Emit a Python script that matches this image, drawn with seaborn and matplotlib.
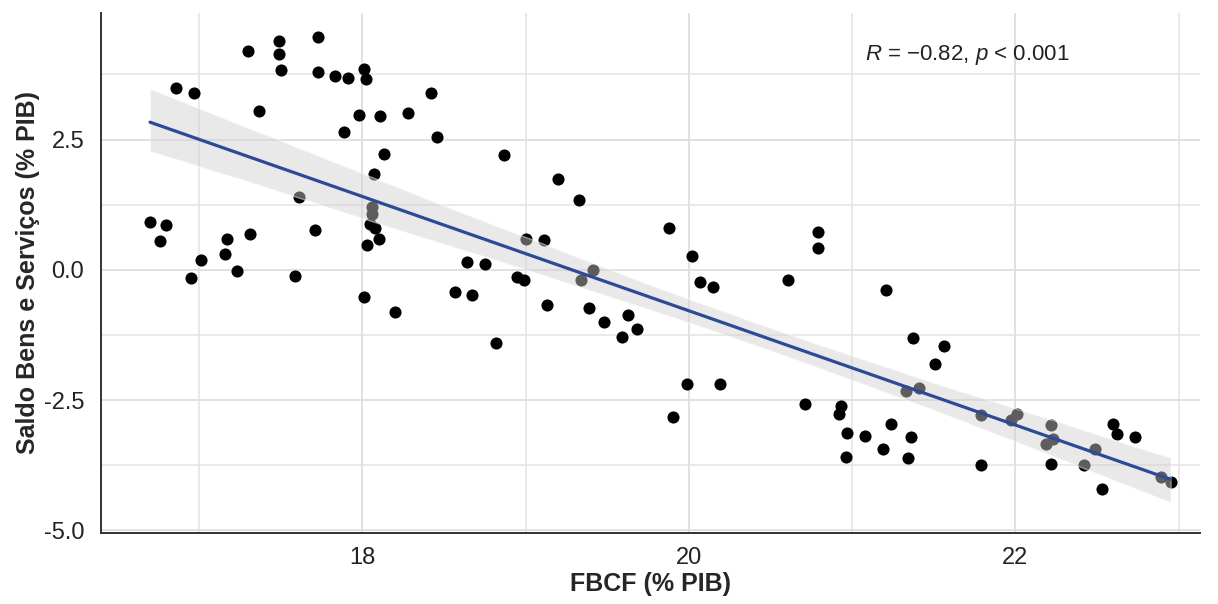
import matplotlib
matplotlib.use("Agg")
import matplotlib.pyplot as plt
import seaborn as sns
import pandas as pd
from matplotlib.ticker import MultipleLocator
from matplotlib.collections import PolyCollection

# FBCF (% PIB) vs Saldo Bens e Serviços (% PIB)
fbcf = [16.70, 16.80, 16.76, 16.86, 16.97, 16.95, 17.01, 17.16, 17.17, 17.23,
        17.30, 17.31, 17.37, 17.49, 17.49, 17.50, 17.59, 17.61, 17.71, 17.73,
        17.73, 17.83, 17.89, 17.91, 17.98, 18.01, 18.02, 18.01, 18.03, 18.05,
        18.06, 18.06, 18.07, 18.08, 18.10, 18.11, 18.13, 18.20, 18.28, 18.42,
        18.46, 18.57, 18.64, 18.67, 18.75, 18.82, 18.87, 18.95, 18.99, 19.00,
        19.11, 19.13, 19.20, 19.33, 19.34, 19.39, 19.41, 19.48, 19.59, 19.63,
        19.68, 19.88, 19.90, 19.99, 20.02, 20.07, 20.15, 20.19, 20.61, 20.71,
        20.79, 20.79, 20.93, 20.92, 20.97, 20.96, 21.08, 21.19, 21.21, 21.24,
        21.33, 21.34, 21.36, 21.37, 21.41, 21.51, 21.56, 21.79, 21.79, 21.97,
        22.01, 22.19, 22.22, 22.23, 22.22, 22.42, 22.49, 22.53, 22.60, 22.62,
        22.73, 22.89, 22.95]
saldo = [0.92, 0.87, 0.56, 3.50, 3.40, -0.16, 0.18, 0.31, 0.60, -0.02,
         4.20, 0.69, 3.04, 4.40, 4.15, 3.83, -0.12, 1.39, 0.76, 4.47,
         3.79, 3.72, 2.64, 3.69, 2.98, 3.85, 3.67, -0.52, 0.48, 0.89,
         1.20, 1.07, 1.84, 0.80, 0.60, 2.95, 2.23, -0.80, 3.01, 3.39,
         2.55, -0.42, 0.16, -0.49, 0.11, -1.41, 2.21, -0.14, -0.20, 0.59,
         0.58, -0.68, 1.75, 1.34, -0.19, -0.74, 0.00, -1.00, -1.28, -0.87,
         -1.14, 0.80, -2.82, -2.19, 0.27, -0.23, -0.33, -2.19, -0.20, -2.58,
         0.72, 0.42, -2.62, -2.76, -3.13, -3.59, -3.18, -3.44, -0.38, -2.96,
         -2.32, -3.62, -3.21, -1.30, -2.27, -1.80, -1.47, -2.78, -3.75, -2.88,
         -2.77, -3.35, -2.97, -3.24, -3.72, -3.75, -3.44, -4.21, -2.95, -3.15,
         -3.21, -3.98, -4.07]
stat_label = r"$\mathit{R}$ = −0.82, $\mathit{p}$ < 0.001"

df = pd.DataFrame({"fbcf": fbcf, "saldo": saldo})

sns.set_theme(style="whitegrid")
plt.rcParams["font.family"] = ["Liberation Sans", "DejaVu Sans"]
plt.rcParams["mathtext.fontset"] = "custom"
plt.rcParams["mathtext.rm"] = "Liberation Sans"
plt.rcParams["mathtext.it"] = "Liberation Sans:italic"

fig = plt.figure(figsize=(12.18, 6.04), dpi=100)
ax = fig.add_axes([101 / 1218, 71 / 604, (1200 - 101) / 1218, (533 - 13) / 604])

sns.regplot(data=df, x="fbcf", y="saldo", ax=ax, color="#909090", seed=1,
            scatter_kws={"color": "black", "s": 76, "alpha": 1, "linewidths": 0, "zorder": 2},
            line_kws={"color": "#2c4a96", "lw": 2.3, "zorder": 4})

# ggplot-like grey ribbon drawn over the points
for coll in ax.collections:
    if isinstance(coll, PolyCollection):
        coll.set_facecolor("#d0d0d0")
        coll.set_alpha(0.45)
        coll.set_zorder(3)

ax.set_xlim(16.40, 23.13)
ax.set_ylim(-5.05, 4.93)
ax.xaxis.set_major_locator(MultipleLocator(2))
ax.xaxis.set_minor_locator(MultipleLocator(1))
ax.yaxis.set_minor_locator(MultipleLocator(1.25))
ax.set_yticks([-5.0, -2.5, 0.0, 2.5])
ax.set_yticklabels(["-5.0", "-2.5", "0.0", "2.5"])

ax.grid(which="major", color="#dedede", lw=1.3)
ax.grid(which="minor", color="#e3e3e3", lw=1.1)
ax.set_axisbelow(True)

for side in ["top", "right"]:
    ax.spines[side].set_visible(False)
for side in ["left", "bottom"]:
    ax.spines[side].set_visible(True)
    ax.spines[side].set_color("#333333")
    ax.spines[side].set_linewidth(1.4)

ax.tick_params(axis="both", which="both", length=0, labelsize=17, labelcolor="#222222")
ax.tick_params(axis="x", pad=10)
ax.tick_params(axis="y", pad=12)

ax.set_xlabel("FBCF (% PIB)", fontsize=18, fontweight="bold", labelpad=2)
ax.set_ylabel("Saldo Bens e Serviços (% PIB)", fontsize=18, fontweight="bold", labelpad=3)

ax.text(21.08, 4.12, stat_label, fontsize=16, color="#222222", ha="left", va="center")

fig.savefig("out.png", dpi=100)
